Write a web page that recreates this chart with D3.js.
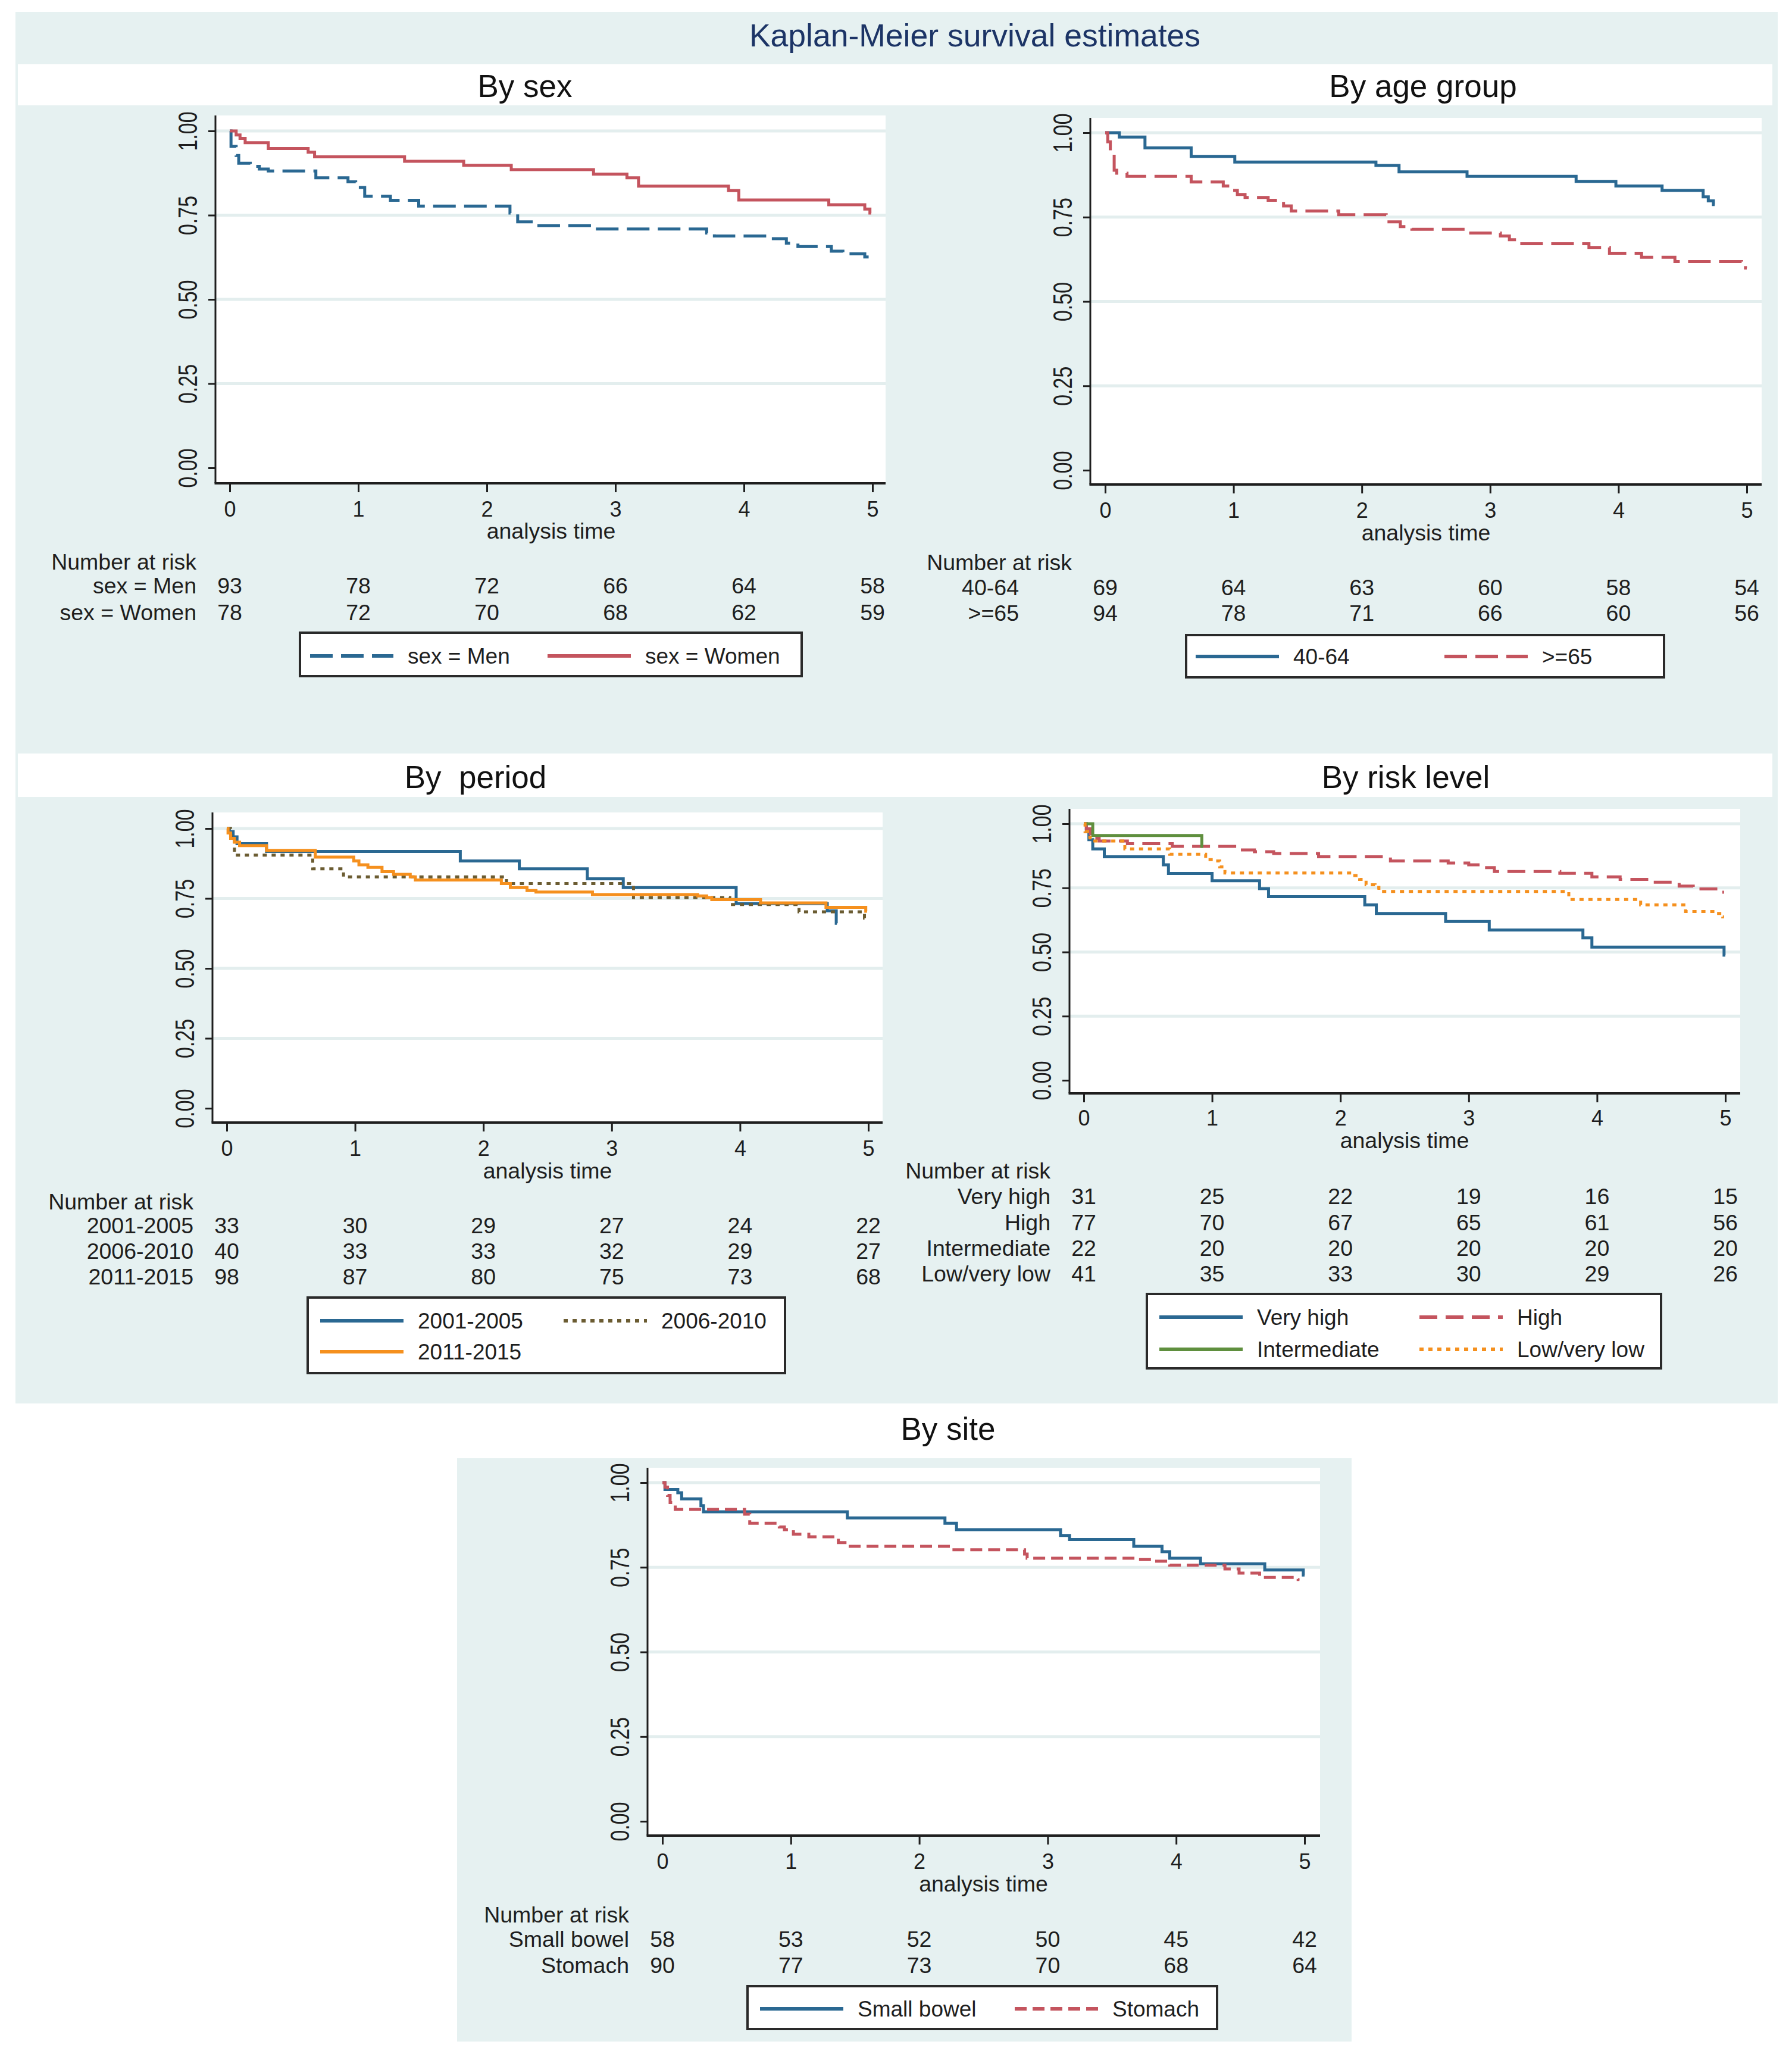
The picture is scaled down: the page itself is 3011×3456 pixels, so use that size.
<!DOCTYPE html>
<html>
<head>
<meta charset="utf-8">
<script src="https://cdn.jsdelivr.net/npm/d3@7"></script>
<style>
body { margin: 0; background: #fff; }
</style>
</head>
<body>
<div id="chart"></div>
<script>
// Time / survival ticks
var timeTicks = [0, 1, 2, 3, 4, 5];
var survTicks = [0, 0.25, 0.5, 0.75, 1];

// KM step curves: [time, survival]
var menKM = [[0,1],[0.01,0.954],[0.05,0.927],[0.07,0.904],[0.16,0.895],[0.23,0.887],[0.30,0.881],[0.67,0.861],[0.92,0.849],[0.98,0.832],[1.05,0.806],[1.25,0.794],[1.47,0.777],[2.18,0.756],[2.24,0.730],[2.36,0.719],[2.82,0.709],[3.71,0.697],[3.77,0.688],[4.19,0.680],[4.33,0.667],[4.42,0.657],[4.68,0.643],[4.77,0.635],[4.94,0.626],[4.97,0.626]];
var womenKM = [[0,1],[0.05,0.988],[0.08,0.978],[0.12,0.965],[0.30,0.948],[0.61,0.937],[0.66,0.923],[1.36,0.910],[1.82,0.898],[2.19,0.885],[2.83,0.872],[3.09,0.861],[3.18,0.836],[3.88,0.823],[3.96,0.795],[4.66,0.781],[4.94,0.768],[4.98,0.756],[4.99,0.756]];

var age4064KM = [[0,1],[0.11,0.987],[0.31,0.955],[0.67,0.930],[1.01,0.913],[2.11,0.903],[2.29,0.884],[2.82,0.871],[3.67,0.856],[3.98,0.842],[4.34,0.829],[4.66,0.810],[4.70,0.798],[4.74,0.787],[4.75,0.787]];
var age65KM = [[0,1],[0.02,0.973],[0.04,0.943],[0.07,0.889],[0.09,0.880],[0.17,0.871],[0.67,0.854],[0.92,0.842],[0.98,0.829],[1.03,0.817],[1.09,0.808],[1.27,0.800],[1.39,0.783],[1.45,0.768],[1.82,0.757],[2.19,0.736],[2.30,0.722],[2.39,0.714],[2.83,0.703],[3.08,0.694],[3.15,0.683],[3.22,0.671],[3.77,0.660],[3.93,0.643],[4.18,0.631],[4.44,0.618],[4.96,0.610],[4.99,0.599],[5.0,0.599]];

var p0105KM = [[0,1],[0.02,0.989],[0.05,0.970],[0.08,0.946],[0.31,0.918],[1.82,0.884],[2.28,0.856],[2.81,0.820],[3.09,0.789],[3.97,0.732],[4.68,0.706],[4.75,0.661],[4.755,0.661]];
var p0610KM = [[0,1],[0.03,0.974],[0.06,0.905],[0.67,0.856],[0.91,0.827],[2.18,0.803],[3.17,0.753],[3.92,0.728],[4.46,0.702],[4.97,0.680],[4.98,0.680]];
var p1115KM = [[0,1],[0.01,0.984],[0.03,0.965],[0.06,0.951],[0.10,0.939],[0.31,0.922],[0.69,0.898],[0.99,0.884],[1.03,0.870],[1.10,0.861],[1.21,0.846],[1.30,0.836],[1.43,0.827],[1.47,0.816],[2.14,0.803],[2.21,0.789],[2.34,0.778],[2.41,0.773],[2.85,0.764],[3.67,0.759],[3.74,0.753],[3.78,0.746],[4.16,0.734],[4.67,0.718],[4.98,0.704],[4.99,0.704]];

var vhighKM = [[0,1],[0.02,0.969],[0.04,0.938],[0.07,0.902],[0.16,0.871],[0.62,0.840],[0.66,0.806],[1.00,0.778],[1.37,0.747],[1.44,0.716],[2.19,0.684],[2.28,0.650],[2.82,0.619],[3.16,0.586],[3.89,0.555],[3.96,0.519],[4.99,0.488],[5.0,0.488]];
var highKM = [[0,1],[0.02,0.980],[0.05,0.954],[0.08,0.943],[0.12,0.933],[0.34,0.922],[0.69,0.912],[1.22,0.898],[1.33,0.891],[1.48,0.884],[1.83,0.871],[2.39,0.855],[2.84,0.847],[3.00,0.840],[3.09,0.829],[3.20,0.814],[3.71,0.807],[3.96,0.793],[4.18,0.783],[4.41,0.772],[4.64,0.757],[4.75,0.746],[4.96,0.733],[4.99,0.733]];
var interKM = [[0,1],[0.07,0.954],[0.92,0.912],[0.93,0.912]];
var lowKM = [[0,1],[0.01,0.969],[0.03,0.948],[0.05,0.933],[0.32,0.902],[0.67,0.881],[0.95,0.860],[1.01,0.855],[1.06,0.832],[1.10,0.808],[2.10,0.798],[2.15,0.783],[2.20,0.762],[2.27,0.752],[2.30,0.736],[3.78,0.705],[4.34,0.684],[4.69,0.658],[4.93,0.650],[4.98,0.637],[4.99,0.637]];

var smallBowelKM = [[0,1],[0.02,0.980],[0.12,0.970],[0.15,0.952],[0.30,0.932],[0.32,0.914],[1.44,0.896],[2.20,0.880],[2.29,0.861],[3.10,0.844],[3.17,0.832],[3.67,0.812],[3.89,0.796],[3.95,0.777],[4.19,0.760],[4.69,0.742],[4.99,0.727],[5.0,0.727]];
var stomachKM = [[0,1],[0.02,0.987],[0.04,0.962],[0.06,0.941],[0.10,0.921],[0.64,0.907],[0.68,0.880],[0.91,0.869],[0.95,0.861],[1.02,0.848],[1.14,0.840],[1.37,0.823],[1.44,0.812],[2.27,0.802],[2.82,0.789],[2.84,0.777],[3.71,0.773],[3.81,0.768],[3.95,0.756],[4.38,0.745],[4.49,0.733],[4.65,0.720],[4.95,0.714],[4.96,0.714]];

// Number at risk tables
var sexLabels = ['sex = Men', 'sex = Women'];
var sexRisk = [[93,78,72,66,64,58],[78,72,70,68,62,59]];
var ageLabels = ['40-64', '>=65'];
var ageRisk = [[69,64,63,60,58,54],[94,78,71,66,60,56]];
var periodLabels = ['2001-2005', '2006-2010', '2011-2015'];
var periodRisk = [[33,30,29,27,24,22],[40,33,33,32,29,27],[98,87,80,75,73,68]];
var riskLabels = ['Very high', 'High', 'Intermediate', 'Low/very low'];
var riskRisk = [[31,25,22,19,16,15],[77,70,67,65,61,56],[22,20,20,20,20,20],[41,35,33,30,29,26]];
var siteLabels = ['Small bowel', 'Stomach'];
var siteRisk = [[58,53,52,50,45,42],[90,77,73,70,68,64]];

var W = 3011, H = 3456;
var font = '"Liberation Sans", Arial, Helvetica, sans-serif';
var teal = '#e6f1f1';
var gridCol = '#e3eeee';
var ink = '#1e1e1e';
var blue = '#2a6892', red = '#c4545e', orange = '#f5901e', green = '#5f8f3e', brown = '#6b5c32';
var DASH = '38,14', SHORTDASH = '20,10', DOT = '7,8';
var small = 37.5;

var svg = d3.select('#chart')
    .append('svg')
    .attr('width', W)
    .attr('height', H)
    .style('font-family', font);

svg.append('rect').attr('width', W).attr('height', H).attr('fill', '#fff');
svg.append('rect').attr('x', 26).attr('y', 20).attr('width', 2961).attr('height', 2338).attr('fill', teal);
// white strips behind panel titles
svg.append('rect').attr('x', 30).attr('y', 108).attr('width', 2948).attr('height', 69).attr('fill', '#fff');
svg.append('rect').attr('x', 30).attr('y', 1266).attr('width', 2948).attr('height', 73).attr('fill', '#fff');
// box round the last panel
svg.append('rect').attr('x', 768).attr('y', 2450).attr('width', 1503).attr('height', 980).attr('fill', teal);

svg.append('text')
    .text('Kaplan-Meier survival estimates')
    .attr('x', 1638).attr('y', 78)
    .attr('text-anchor', 'middle')
    .attr('font-size', 53.5)
    .attr('fill', '#1c3466');

var panels = [
    {
        title: 'By sex', titleX: 882, titleY: 163,
        x0: 386, x5: 1466, y1: 220, y0: 786,
        axisX: 362, plotTop: 194, plotRight: 1488, axisY: 812,
        xtickBase: 868, xtitleBase: 905, narBase: 957, narRight: 330,
        rowBase: [997, 1042], labelRight: 330,
        labels: sexLabels, risk: sexRisk,
        series: [
            {data: menKM, color: blue, dash: DASH},
            {data: womenKM, color: red, dash: null}
        ],
        legend: {x: 504, y: 1063, w: 843, h: 73, items: [
            {x: 521, y: 1102, label: 'sex = Men', color: blue, dash: DASH},
            {x: 920, y: 1102, label: 'sex = Women', color: red, dash: null}
        ]}
    },
    {
        title: 'By age group', titleX: 2391, titleY: 163,
        x0: 1857, x5: 2935, y1: 223, y0: 790,
        axisX: 1832, plotTop: 198, plotRight: 2960, axisY: 814,
        xtickBase: 870, xtitleBase: 908, narBase: 958, narRight: 1801,
        rowBase: [1000, 1043], labelRight: 1712,
        labels: ageLabels, risk: ageRisk,
        series: [
            {data: age4064KM, color: blue, dash: null},
            {data: age65KM, color: red, dash: DASH}
        ],
        legend: {x: 1993, y: 1067, w: 803, h: 71, items: [
            {x: 2009, y: 1103, label: '40-64', color: blue, dash: null},
            {x: 2427, y: 1103, label: '>=65', color: red, dash: DASH}
        ]}
    },
    {
        title: 'By  period', titleX: 799, titleY: 1324,
        x0: 381, x5: 1459, y1: 1392, y0: 1862,
        axisX: 357, plotTop: 1365, plotRight: 1483, axisY: 1886,
        xtickBase: 1942, xtitleBase: 1980, narBase: 2032, narRight: 325,
        rowBase: [2072, 2115, 2158], labelRight: 325,
        labels: periodLabels, risk: periodRisk,
        series: [
            {data: p0105KM, color: blue, dash: null},
            {data: p0610KM, color: brown, dash: DOT},
            {data: p1115KM, color: orange, dash: null}
        ],
        legend: {x: 517, y: 2180, w: 802, h: 127, items: [
            {x: 538, y: 2219, label: '2001-2005', color: blue, dash: null},
            {x: 947, y: 2219, label: '2006-2010', color: brown, dash: DOT},
            {x: 538, y: 2271, label: '2011-2015', color: orange, dash: null}
        ]}
    },
    {
        title: 'By risk level', titleX: 2362, titleY: 1324,
        x0: 1821, x5: 2899, y1: 1384, y0: 1815,
        axisX: 1797, plotTop: 1359, plotRight: 2924, axisY: 1837,
        xtickBase: 1891, xtitleBase: 1929, narBase: 1980, narRight: 1765,
        rowBase: [2023, 2067, 2110, 2153], labelRight: 1765,
        labels: riskLabels, risk: riskRisk,
        series: [
            {data: vhighKM, color: blue, dash: null},
            {data: highKM, color: red, dash: '30,14'},
            {data: interKM, color: green, dash: null},
            {data: lowKM, color: orange, dash: DOT}
        ],
        legend: {x: 1927, y: 2174, w: 864, h: 125, items: [
            {x: 1948, y: 2213, label: 'Very high', color: blue, dash: null},
            {x: 2385, y: 2213, label: 'High', color: red, dash: '30,14'},
            {x: 1948, y: 2267, label: 'Intermediate', color: green, dash: null},
            {x: 2385, y: 2267, label: 'Low/very low', color: orange, dash: DOT}
        ]}
    },
    {
        title: 'By site', titleX: 1593, titleY: 2419,
        x0: 1113, x5: 2192, y1: 2491, y0: 3060,
        axisX: 1088, plotTop: 2466, plotRight: 2218, axisY: 3084,
        xtickBase: 3140, xtitleBase: 3178, narBase: 3230, narRight: 1057,
        rowBase: [3271, 3315], labelRight: 1057,
        labels: siteLabels, risk: siteRisk,
        series: [
            {data: smallBowelKM, color: blue, dash: null},
            {data: stomachKM, color: red, dash: SHORTDASH}
        ],
        legend: {x: 1256, y: 3337, w: 789, h: 72, items: [
            {x: 1277, y: 3375, label: 'Small bowel', color: blue, dash: null},
            {x: 1705, y: 3375, label: 'Stomach', color: red, dash: SHORTDASH}
        ]}
    }
];

function drawPanel(p) {
    var g = svg.append('g');
    var x = d3.scaleLinear().domain([0, 5]).range([p.x0, p.x5]);
    var y = d3.scaleLinear().domain([0, 1]).range([p.y0, p.y1]);

    g.append('text')
        .text(p.title)
        .attr('x', p.titleX).attr('y', p.titleY)
        .attr('text-anchor', 'middle')
        .attr('font-size', 53)
        .attr('fill', '#111')
        .style('white-space', 'pre');

    // plot region
    g.append('rect')
        .attr('x', p.axisX).attr('y', p.plotTop)
        .attr('width', p.plotRight - p.axisX)
        .attr('height', p.axisY - p.plotTop)
        .attr('fill', '#fff');

    g.selectAll('.grid')
        .data(survTicks.filter(function(d) { return d > 0; }))
        .enter()
        .append('line')
        .attr('x1', p.axisX).attr('x2', p.plotRight)
        .attr('y1', function(d) { return y(d); })
        .attr('y2', function(d) { return y(d); })
        .attr('stroke', gridCol)
        .attr('stroke-width', 5);

    // x axis
    g.append('g')
        .attr('transform', 'translate(0,' + p.axisY + ')')
        .call(d3.axisBottom(x).tickValues(timeTicks).tickSize(15).tickFormat(d3.format('d')))
        .call(function(a) {
            a.attr('font-family', font).attr('font-size', 36);
            a.select('.domain').remove();
            a.selectAll('.tick line').attr('stroke', ink).attr('stroke-width', 3);
            a.selectAll('.tick text')
                .attr('y', p.xtickBase - p.axisY)
                .attr('dy', 0)
                .attr('fill', ink);
        });

    // y axis
    g.append('g')
        .attr('transform', 'translate(' + p.axisX + ',0)')
        .call(d3.axisLeft(y).tickValues(survTicks).tickSize(12).tickFormat(d3.format('.2f')))
        .call(function(a) {
            a.attr('font-family', font).attr('font-size', 45);
            a.select('.domain').remove();
            a.selectAll('.tick line').attr('stroke', ink).attr('stroke-width', 3);
            a.selectAll('.tick text')
                .attr('x', 0).attr('y', 0)
                .attr('dy', '0.36em')
                .attr('text-anchor', 'middle')
                .attr('transform', 'translate(-47,0) rotate(-90)')
                .attr('textLength', 66)
                .attr('lengthAdjust', 'spacingAndGlyphs')
                .attr('fill', ink);
        });

    g.append('line')
        .attr('x1', p.axisX).attr('x2', p.axisX)
        .attr('y1', p.plotTop).attr('y2', p.axisY)
        .attr('stroke', ink).attr('stroke-width', 3);
    g.append('line')
        .attr('x1', p.axisX - 1.5).attr('x2', p.plotRight)
        .attr('y1', p.axisY).attr('y2', p.axisY)
        .attr('stroke', ink).attr('stroke-width', 4);

    // curves
    var line = d3.line()
        .x(function(d) { return x(d[0]); })
        .y(function(d) { return y(d[1]); })
        .curve(d3.curveStepAfter);

    g.selectAll('.km')
        .data(p.series)
        .enter()
        .append('path')
        .attr('d', function(s) { return line(s.data); })
        .attr('fill', 'none')
        .attr('stroke', function(s) { return s.color; })
        .attr('stroke-width', 5)
        .attr('stroke-dasharray', function(s) { return s.dash; });

    g.append('text')
        .text('analysis time')
        .attr('x', (p.x0 + p.x5) / 2).attr('y', p.xtitleBase)
        .attr('text-anchor', 'middle')
        .attr('font-size', small)
        .attr('fill', ink);

    // number at risk
    g.append('text')
        .text('Number at risk')
        .attr('x', p.narRight).attr('y', p.narBase)
        .attr('text-anchor', 'end')
        .attr('font-size', small)
        .attr('fill', ink);

    p.risk.forEach(function(row, i) {
        g.append('text')
            .text(p.labels[i])
            .attr('x', p.labelRight).attr('y', p.rowBase[i])
            .attr('text-anchor', 'end')
            .attr('font-size', small)
            .attr('fill', ink);
        g.selectAll('.n' + i)
            .data(row)
            .enter()
            .append('text')
            .text(function(d) { return d; })
            .attr('x', function(d, j) { return x(timeTicks[j]); })
            .attr('y', p.rowBase[i])
            .attr('text-anchor', 'middle')
            .attr('font-size', small)
            .attr('fill', ink);
    });

    // legend
    var L = p.legend;
    g.append('rect')
        .attr('x', L.x).attr('y', L.y)
        .attr('width', L.w).attr('height', L.h)
        .attr('fill', '#fff')
        .attr('stroke', '#2a2a2a')
        .attr('stroke-width', 4);
    L.items.forEach(function(it) {
        g.append('line')
            .attr('x1', it.x).attr('x2', it.x + 140)
            .attr('y1', it.y).attr('y2', it.y)
            .attr('stroke', it.color)
            .attr('stroke-width', 6)
            .attr('stroke-dasharray', it.dash);
        g.append('text')
            .text(it.label)
            .attr('x', it.x + 164).attr('y', it.y + 13)
            .attr('font-size', 37)
            .attr('fill', ink);
    });
}

panels.forEach(drawPanel);
</script>
</body>
</html>
